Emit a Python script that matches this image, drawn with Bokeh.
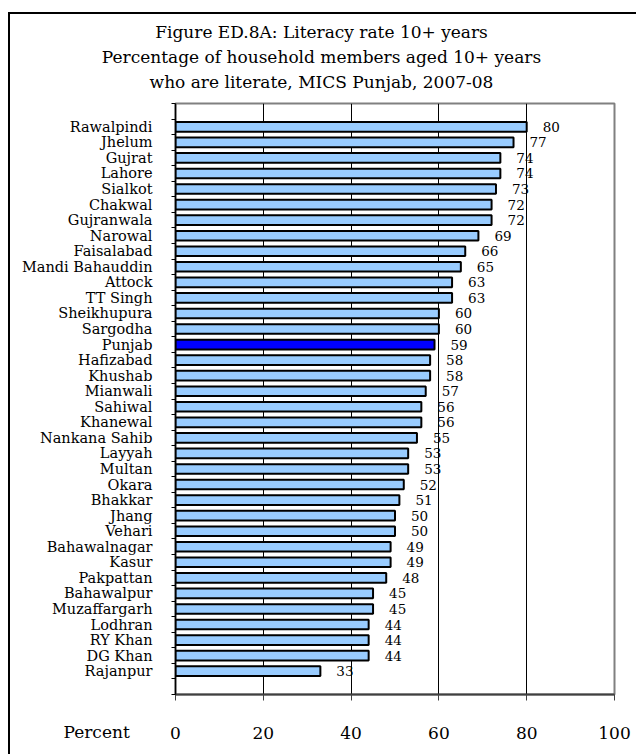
from bokeh.plotting import figure
from bokeh.models import (Range1d, FixedTicker, Label, ColumnDataSource, InlineStyleSheet)
from bokeh.core.properties import value
from bokeh.embed import file_html
from bokeh.resources import INLINE

# District literacy rates (%), household members aged 10+, MICS Punjab 2007-08
districts = [
    "Rawalpindi", "Jhelum", "Gujrat", "Lahore", "Sialkot", "Chakwal", "Gujranwala",
    "Narowal", "Faisalabad", "Mandi Bahauddin", "Attock", "TT Singh", "Sheikhupura",
    "Sargodha", "Punjab", "Hafizabad", "Khushab", "Mianwali", "Sahiwal", "Khanewal",
    "Nankana Sahib", "Layyah", "Multan", "Okara", "Bhakkar", "Jhang", "Vehari",
    "Bahawalnagar", "Kasur", "Pakpattan", "Bahawalpur", "Muzaffargarh", "Lodhran",
    "RY Khan", "DG Khan", "Rajanpur",
]
literacy = [
    80, 77, 74, 74, 73, 72, 72,
    69, 66, 65, 63, 63, 60,
    60, 59, 58, 58, 57, 56, 56,
    55, 53, 53, 52, 51, 50, 50,
    49, 49, 48, 45, 45, 44,
    44, 44, 33,
]
x_ticks = [0, 20, 40, 60, 80, 100]
title_lines = [
    "Figure ED.8A: Literacy rate 10+ years",
    "Percentage of household members aged 10+ years",
    "who are literate, MICS Punjab, 2007-08",
]

SERIF = "DejaVu Serif"
W, H = 636, 754
LEFT, RIGHT, TOP, BOTTOM = 175, 22, 103, 60
n = len(districts)
n_slots = n + 2  # one empty slot above and below the bars

# bar centres, top to bottom
y_pos = [n_slots - 1.5 - i for i in range(n)]
colors = ["#0000FF" if d == "Punjab" else "#99CCFF" for d in districts]
src = ColumnDataSource(dict(
    y=y_pos, v=literacy, name=districts, color=colors,
    label=[str(v) for v in literacy],
))

# black page frame, left and top edges
frame_css = InlineStyleSheet(css="""
:host { position: relative; }
:host::after {
  content: ""; position: absolute; left: 8px; top: 12px;
  width: 628px; height: 742px; box-sizing: border-box;
  border-left: 2.5px solid black; border-top: 2.5px solid black;
  pointer-events: none;
}
""")

p = figure(
    width=W, height=H, output_backend="svg", toolbar_location=None,
    x_range=Range1d(0, 100), y_range=Range1d(0, n_slots),
    min_border_left=LEFT, min_border_right=RIGHT, min_border_top=TOP,
    min_border_bottom=BOTTOM,
    background_fill_color="white", border_fill_color="white",
    stylesheets=[frame_css],
)

# frame
p.outline_line_color = "#808080"
p.outline_line_width = 2

# grid: vertical lines only
p.ygrid.visible = False
p.xgrid.ticker = FixedTicker(ticks=[20, 40, 60, 80])
p.xgrid.grid_line_color = "black"
p.xgrid.grid_line_width = 1

# x axis
xa = p.xaxis[0]
xa.ticker = FixedTicker(ticks=x_ticks)
xa.axis_line_color = "#404040"
xa.axis_line_width = 2
xa.major_tick_in = 0
xa.major_tick_out = 6
xa.major_tick_line_color = "#404040"
xa.minor_tick_line_color = None
xa.major_label_text_font = SERIF
xa.major_label_text_font_size = "17px"
xa.major_label_text_color = "black"
xa.major_label_standoff = 26

# y axis: names at bar centres, tick marks between categories
ya = p.yaxis[0]
ya.ticker = FixedTicker(ticks=y_pos, minor_ticks=list(range(0, n_slots + 1)))
ya.major_label_overrides = {y: d for y, d in zip(y_pos, districts)}
ya.major_tick_line_color = None
ya.minor_tick_in = 0
ya.minor_tick_out = 4
ya.minor_tick_line_color = "black"
ya.axis_line_color = "black"
ya.axis_line_width = 1.5
ya.major_label_text_font = SERIF
ya.major_label_text_font_size = "14.5px"
ya.major_label_text_color = "black"
ya.major_label_standoff = 17

# bars
p.hbar(y="y", right="v", left=0, height=0.62, source=src,
       fill_color="color", line_color="black", line_width=2)

# value labels
p.text(x="v", y="y", text="label", source=src, x_offset=16,
       text_font=value(SERIF), text_font_size="13.5px", text_color="black",
       text_baseline="middle", text_align="left")

# chart title: three centred lines in the top margin
for i, line in enumerate(title_lines):
    p.add_layout(Label(x=W / 2 + 3, y=31 + 25 * i, x_units="canvas", y_units="canvas",
                       text=line, text_font=SERIF, text_font_size="17px",
                       text_align="center", text_baseline="middle",
                       text_color="black"), "above")

# "Percent" caption left of the x tick labels
p.add_layout(Label(x=63, y=731, x_units="canvas", y_units="canvas",
                   text="Percent", text_font=SERIF, text_font_size="17px",
                   text_align="left", text_baseline="middle",
                   text_color="black"), "above")

open("out.html", "w").write(file_html(p, INLINE))
